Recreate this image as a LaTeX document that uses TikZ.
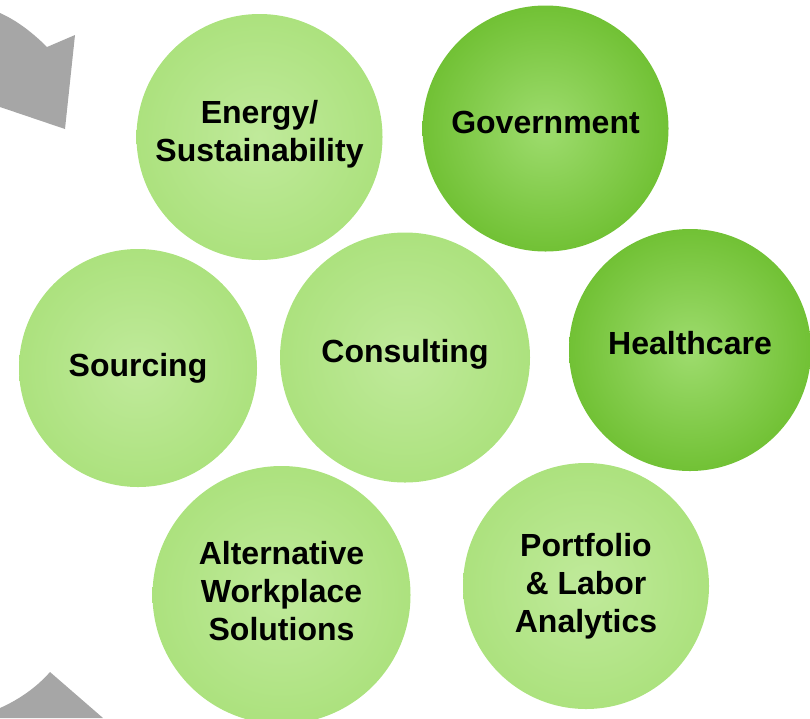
\documentclass[tikz,border=0pt]{standalone}
\usepackage{fontspec}
\setmainfont{Liberation Sans}

% colours of the balls and arrows
\definecolor{lightC}{RGB}{192,234,155}
\definecolor{lightM}{RGB}{168,224,120}
\definecolor{lightE}{RGB}{136,206,86}
\definecolor{darkC}{RGB}{158,220,110}
\definecolor{darkM}{RGB}{108,190,46}
\definecolor{darkE}{RGB}{84,150,32}
\definecolor{arrowgray}{RGB}{166,166,166}

% radial fills: bright centre, deeper rim
\pgfdeclareradialshading{lightball}{\pgfpoint{0bp}{0bp}}{%
  color(0bp)=(lightC); color(30bp)=(lightM); color(50bp)=(lightE); color(100bp)=(lightE)}
\pgfdeclareradialshading{darkball}{\pgfpoint{0bp}{0bp}}{%
  color(0bp)=(darkC); color(28bp)=(darkM); color(50bp)=(darkE); color(100bp)=(darkE)}

\tikzset{
  ball/.style={circle, inner sep=0pt},
  lightballnode/.style={ball, shading=lightball},
  darkballnode/.style={ball, shading=darkball},
  balltext/.style={align=center, text=black, inner sep=0pt,
    font=\fontsize{32}{38}\selectfont\bfseries},
  grayarrow/.style={fill=arrowgray, draw=none}
}

\begin{document}
\begin{tikzpicture}[x=1pt,y=-1pt]
  \useasboundingbox (0,0) rectangle (810,718);
  \clip (0,0) rectangle (810,718);

  % pieces of the surrounding circular arrows
  \fill[grayarrow] (0,13) .. controls (18,21) and (34,34) .. (47,47)
    -- (75,35) -- (65,129) -- (0,107) -- cycle;
  \fill[grayarrow] (0,708) .. controls (18,700) and (36,688) .. (50,672)
    -- (103,718) -- (0,718) -- cycle;

  % the service balls
  \node[lightballnode, minimum size=246pt] (energy) at (259.5,137) {};
  \node[darkballnode, minimum size=246pt] (gov) at (545.5,128.5) {};
  \node[lightballnode, minimum size=238pt] (sourcing) at (138,368) {};
  \node[lightballnode, minimum size=250pt] (consulting) at (405,357.5) {};
  \node[darkballnode, minimum size=242pt] (health) at (690,350) {};
  \node[lightballnode, minimum size=258pt] (awp) at (281.5,595) {};
  \node[lightballnode, minimum size=246pt] (portfolio) at (586,586) {};

  % their labels
  \node[balltext] (energy-t) at ([yshift=3pt]energy.center) {Energy/\\Sustainability};
  \node[balltext] (gov-t) at ([yshift=6pt]gov.center) {Government};
  \node[balltext] (sourcing-t) at (sourcing.center) {Sourcing};
  \node[balltext] (consulting-t) at ([yshift=3pt]consulting.center) {Consulting};
  \node[balltext] (health-t) at ([yshift=7pt]health.center) {Healthcare};
  \node[balltext] (awp-t) at ([yshift=4pt]awp.center) {Alternative\\Workplace\\Solutions};
  \node[balltext] (portfolio-t) at (portfolio.center) {Portfolio\\\& Labor\\Analytics};
\end{tikzpicture}
\end{document}
